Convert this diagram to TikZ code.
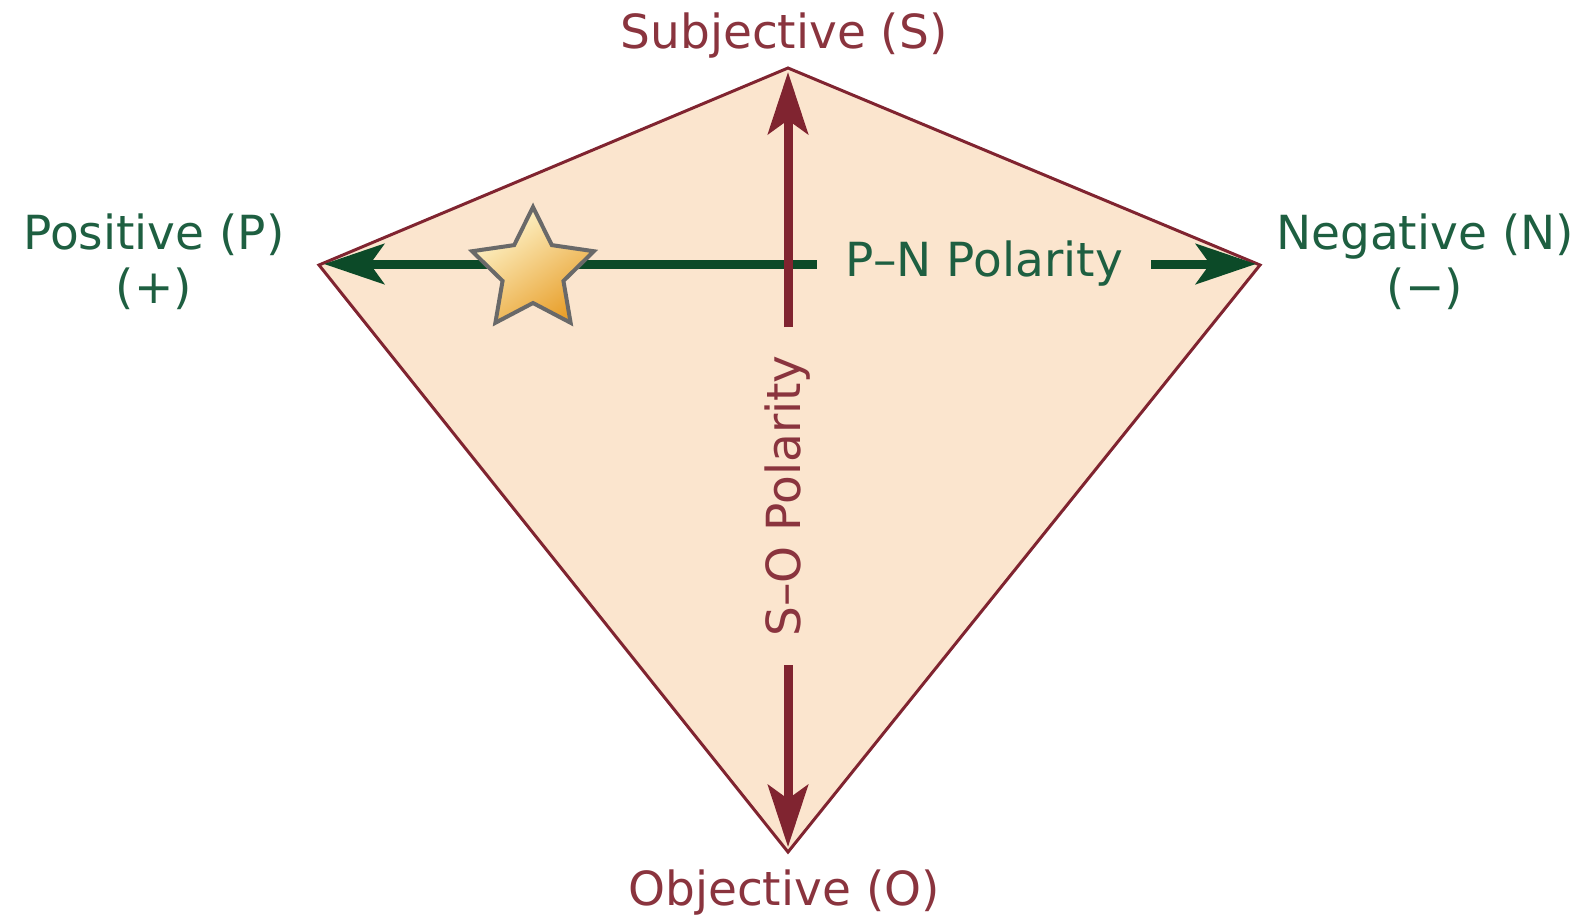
\documentclass[tikz,border=0pt]{standalone}
\usepackage{fontspec}
\setmainfont{DejaVu Sans}
\usepackage{tikz}
\usetikzlibrary{arrows.meta,positioning,shapes.geometric}
\usepackage{xcolor}
\definecolor{kitefill}  {RGB}{251,229,206}
\definecolor{kiteline}  {RGB}{128, 36, 48}
\definecolor{sotext}    {RGB}{138, 52, 62}
\definecolor{pnline}    {RGB}{ 12, 74, 40}
\definecolor{pntext}    {RGB}{ 30, 95, 65}
\definecolor{starlight} {RGB}{255,248,210}
\definecolor{stargold}  {RGB}{232,160, 45}
\definecolor{staredge}  {RGB}{105,105,105}

\begin{document}
\begin{tikzpicture}[
  x=0.5pt, y=-0.5pt,
  every node/.style={font=\fontsize{23.5}{28}\selectfont, inner sep=0pt},
  kite/.style={draw=kiteline, fill=kitefill, line width=1.5pt, line join=miter},
  soarrow/.style={-{Stealth[length=31pt,width=20pt,inset=7pt]}, line width=4.5pt, kiteline},
  pnarrow/.style={-{Stealth[length=30pt,width=20pt,inset=7pt]}, line width=4.5pt, pnline},
  sopole/.style={text=sotext, anchor=base},
  pnpole/.style={text=pntext, anchor=base},
  polarity/.style={inner xsep=14pt, inner ysep=4pt},
  goldstar/.style={star, star points=5, star point ratio=2.0, minimum size=64pt,
    draw=staredge, line width=2pt, top color=starlight, bottom color=stargold, shading angle=35}
]
  \useasboundingbox (0,0) rectangle (1583,917);

  % Corners of the kite
  \coordinate (S) at (788,68);
  \coordinate (P) at (319,265);
  \coordinate (N) at (1260,265);
  \coordinate (O) at (788,852);
  \draw[kite] (S) -- (N) -- (O) -- (P) -- cycle;

  % Arrow tips
  \coordinate (Stip) at (788,72);
  \coordinate (Otip) at (788,847);
  \coordinate (Ptip) at (324,264);
  \coordinate (Ntip) at (1256,264);

  % Labels
  \node (subj) [sopole] at (784,48) {Subjective (S)};
  \node (obj) [sopole] at (784,905) {Objective (O)};
  \node (pos) [pnpole] at (154,249) {Positive (P)};
  \node (plus) [pnpole, yshift=-27pt] at (pos.base) {(+)};
  \node (neg) [pnpole] at (1425,249) {Negative (N)};
  \node (minus) [pnpole, yshift=-27pt] at (neg.base) {(−)};

  % P-N polarity
  \node (pn) [polarity, text=pntext] at (984,264) {P–N Polarity};
  \draw [pnarrow] (pn.west) -- (Ptip);
  \draw [pnarrow] (pn.east) -- (Ntip);

  % S-O polarity
  \node (so) [polarity, text=sotext, rotate=90] at (788,496) {S–O Polarity};
  \draw [soarrow] (so.east) -- (Stip);
  \draw [soarrow] (so.west) -- (Otip);

  % Star
  \node (star) [goldstar] at (533,271) {};
\end{tikzpicture}
\end{document}
